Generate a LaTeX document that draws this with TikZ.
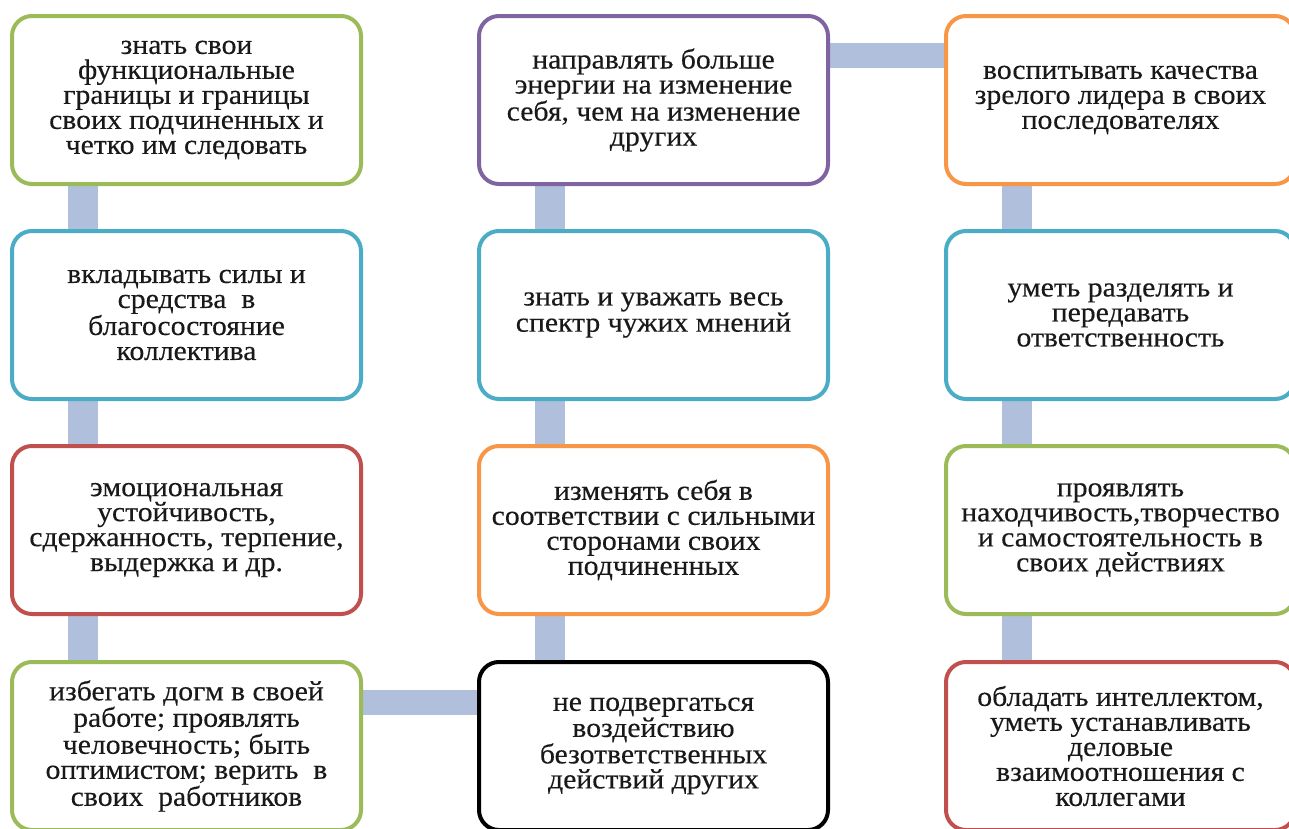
\documentclass[tikz,border=0pt]{standalone}
\usepackage{fontspec}
\setmainfont{Liberation Serif}
\newfontfamily\cardfont{Liberation Serif}[FakeStretch=1.06,FakeBold=0.3]
\usetikzlibrary{backgrounds}

\definecolor{cgreen}{HTML}{9BBB59}
\definecolor{cblue}{HTML}{4BACC6}
\definecolor{cred}{HTML}{C0504D}
\definecolor{cpurple}{HTML}{8064A2}
\definecolor{corange}{HTML}{F79646}
\definecolor{linkblue}{HTML}{B0C0DC}

\begin{document}
\begin{tikzpicture}[x=1bp,y=1bp,
  card/.style={draw=#1, line width=4bp, fill=white, rounded corners=20bp,
    minimum width=349bp, minimum height=168bp, anchor=north west,
    outer sep=0pt, inner sep=0pt, align=center, text=black!90,
    font=\cardfont\fontsize{28bp}{25bp}\selectfont},
  vlink/.style={draw=linkblue, line width=30bp},
  hlink/.style={draw=linkblue, line width=25bp}]

\useasboundingbox (0,0) rectangle (1289,-829);
\clip (0,0) rectangle (1289,-829);

% left column
\node[card=cgreen] (a1) at (12,-16)
  {знать свои\\функциональные\\границы и границы\\своих подчиненных и\\четко им следовать};
\node[card=cblue] (a2) at (12,-231)
  {вкладывать силы и\\средства\ \ в\\благосостояние\\коллектива};
\node[card=cred] (a3) at (12,-446)
  {эмоциональная\\устойчивость,\\сдержанность, терпение,\\выдержка и др.};
\node[card=cgreen] (a4) at (12,-662)
  {избегать догм в своей\\работе; проявлять\\человечность; быть\\оптимистом; верить\ \ в\\своих\ \ работников};

% middle column
\node[card=cpurple] (b1) at (479,-16)
  {направлять больше\\энергии на изменение\\себя, чем на изменение\\других};
\node[card=cblue] (b2) at (479,-231)
  {знать и уважать весь\\спектр чужих мнений};
\node[card=corange] (b3) at (479,-446)
  {изменять себя в\\соответствии с сильными\\сторонами своих\\подчиненных};
\node[card=black] (b4) at (479,-662)
  {не подвергаться\\воздействию\\безответственных\\действий других};

% right column
\node[card=corange] (c1) at (946,-16)
  {воспитывать качества\\зрелого лидера в своих\\последователях};
\node[card=cblue] (c2) at (946,-231)
  {уметь разделять и\\передавать\\ответственность};
\node[card=cgreen] (c3) at (946,-446)
  {проявлять\\находчивость,творчество\\и самостоятельность в\\своих действиях};
\node[card=cred] (c4) at (946,-662)
  {обладать интеллектом,\\уметь устанавливать\\деловые\\взаимоотношения с\\коллегами};

% connecting bars behind the cards
\begin{scope}[on background layer]
  \foreach \p/\q in {a1/a2,a2/a3,a3/a4,b1/b2,b2/b3,b3/b4,c1/c2,c2/c3,c3/c4}
    \draw[vlink] ([xshift=70.5bp]\p.south west) -- ([xshift=70.5bp]\q.north west);
  \draw[hlink] ([yshift=-40.5bp]a4.north east) -- ([yshift=-40.5bp]b4.north west);
  \draw[hlink] ([yshift=-39.5bp]b1.north east) -- ([yshift=-39.5bp]c1.north west);
\end{scope}
\end{tikzpicture}
\end{document}
